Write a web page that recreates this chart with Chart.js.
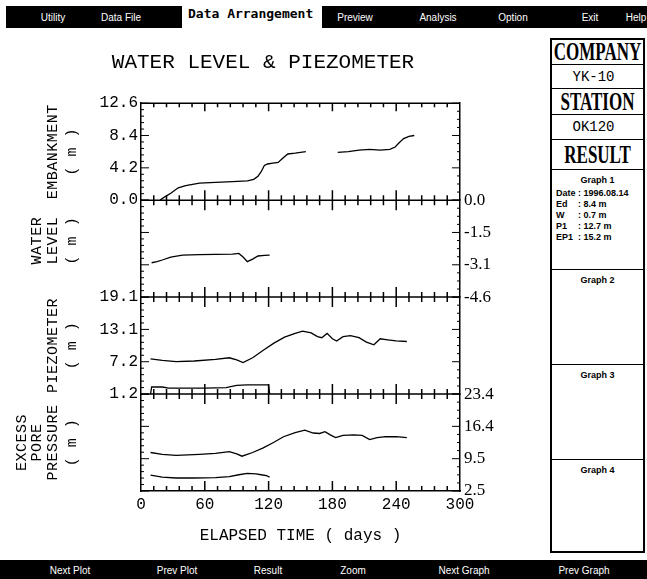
<!DOCTYPE html>
<html>
<head>
<meta charset="utf-8">
<title>Water level & piezometer</title>
<script src="https://cdn.jsdelivr.net/npm/chart.js@4.4.1/dist/chart.umd.min.js"></script>
<style>
  body { margin: 0; width: 647px; height: 579px; position: relative; overflow: hidden; background: #fff; font-family: 'Liberation Sans', sans-serif; }
  .bar { position: absolute; background: #000; color: #fff; font-size: 10px; }
  .bar span { position: absolute; top: 50%; transform: translate(-50%, -50%); white-space: nowrap; }
  #menuL { left: 6px; top: 6px; width: 176px; height: 22px; }
  #menuR { left: 322px; top: 6px; width: 325px; height: 22px; }
  #active { position: absolute; left: 188px; top: 6px; height: 22px; line-height: 22px; font: bold 13px 'DejaVu Sans Mono', monospace; }
  #footer { left: 0; top: 560px; width: 647px; height: 19px; }
  #chart { position: absolute; left: 0; top: 30px; }
  #side { position: absolute; left: 550px; top: 38px; width: 95px; height: 515px; border: 2px solid #000; box-sizing: border-box; }
  #side > div { border-bottom: 1.5px solid #000; box-sizing: border-box; text-align: center; overflow: hidden; }
  #side > div:last-child { border-bottom: none; }
  .head { font: bold 17px 'Liberation Serif', serif; display: flex; align-items: center; justify-content: center; }
  .head span { display: inline-block; transform: scaleY(1.5); }
  .val { font: 14px 'Liberation Mono', monospace; display: flex; align-items: center; justify-content: center; padding-right: 8px; }
  .graph { font: bold 9px 'Liberation Sans', sans-serif; padding-top: 5px; }
  .graph .rows { text-align: left; padding-left: 4px; margin-top: 3px; line-height: 11px; }
  .graph .rows b { display: inline-block; width: 22px; }
</style>
</head>
<body>
<div class="bar" id="menuL"><span style="left:47px">Utility</span><span style="left:115px">Data File</span></div>
<div id="active">Data Arrangement</div>
<div class="bar" id="menuR"><span style="left:33px">Preview</span><span style="left:116px">Analysis</span><span style="left:191px">Option</span><span style="left:268px">Exit</span><span style="left:314px">Help</span></div>

<canvas id="chart" width="526" height="528"></canvas>

<div id="side">
  <div class="head" style="height:25px"><span>COMPANY</span></div>
  <div class="val" style="height:24px">YK-10</div>
  <div class="head" style="height:26px"><span>STATION</span></div>
  <div class="val" style="height:25px">OK120</div>
  <div class="head" style="height:30px"><span>RESULT</span></div>
  <div class="graph" style="height:100px">Graph 1
    <div class="rows">
      <div><b>Date</b>: 1996.08.14</div>
      <div><b>Ed</b>: 8.4 m</div>
      <div><b>W</b>: 0.7 m</div>
      <div><b>P1</b>: 12.7 m</div>
      <div><b>EP1</b>: 15.2 m</div>
    </div>
  </div>
  <div class="graph" style="height:95px">Graph 2</div>
  <div class="graph" style="height:95px">Graph 3</div>
  <div class="graph" style="height:92px">Graph 4</div>
</div>

<div class="bar" id="footer"><span style="left:70px">Next Plot</span><span style="left:177px">Prev Plot</span><span style="left:268px">Result</span><span style="left:353px">Zoom</span><span style="left:464px">Next Graph</span><span style="left:584px">Prev Graph</span></div>

<script>
// --- data ---
const chartTitle = 'WATER LEVEL & PIEZOMETER';
const xTitle = 'ELAPSED TIME ( days )';
const dayTicks = [0, 60, 120, 180, 240, 300];
const minorDayStep = 12;

// panel ranges (m)
const embRange = [0, 12.6];
const waterRange = [-4.6, 0];
const piezoRange = [1.2, 19.1];
const excessRange = [2.5, 23.4];

const panelTitles = [
  ['EMBANKMENT', '( m )'],
  ['WATER', 'LEVEL', '( m )'],
  ['PIEZOMETER', '( m )'],
  ['EXCESS', 'PORE', 'PRESSURE', '( m )']
];

const embDays  = [18, 22, 28, 35, 42, 55, 70, 86, 100, 106, 110, 113, 116, 119, 124, 129, 133, 138, 145, 155, 170, 185, 195, 205, 215, 225, 234, 239, 243, 247, 252, 257];
const embLevel = [0.0, 0.4, 0.9, 1.6, 1.9, 2.2, 2.3, 2.4, 2.5, 2.7, 3.1, 3.7, 4.5, 4.7, 4.8, 4.9, 5.4, 6.0, 6.1, 6.3, null, 6.2, 6.3, 6.5, 6.6, 6.5, 6.6, 6.9, 7.5, 8.0, 8.3, 8.4];

const waterDays  = [10, 15, 20, 28, 39, 55, 70, 86, 92, 96, 100, 105, 110, 116, 121];
const waterLevel = [-2.97, -2.92, -2.84, -2.7, -2.61, -2.58, -2.57, -2.56, -2.53, -2.7, -2.92, -2.8, -2.65, -2.62, -2.61];

const piezoDays  = [9, 20, 33, 50, 70, 83, 90, 96, 105, 115, 125, 135, 145, 152, 160, 166, 170, 175, 180, 184, 190, 197, 205, 212, 219, 225, 232, 240, 250];
const piezoUpper = [7.7, 7.4, 7.2, 7.3, 7.6, 7.9, 7.5, 7.0, 7.9, 9.3, 10.6, 11.7, 12.4, 12.8, 12.5, 11.8, 11.6, 12.4, 11.4, 11.0, 11.8, 12.0, 11.6, 10.8, 10.3, 11.4, 11.2, 11.0, 10.9];

const piezoLowerDays = [9, 10, 20, 26, 40, 60, 80, 90, 100, 110, 120, 121];
const piezoLower     = [1.2, 2.5, 2.5, 2.3, 2.3, 2.3, 2.4, 2.8, 2.9, 2.9, 2.9, 1.2];

const excessDays  = [9, 20, 33, 55, 70, 83, 90, 95, 105, 115, 125, 134, 145, 154, 162, 168, 173, 178, 183, 190, 200, 208, 215, 222, 230, 240, 250];
const excessUpper = [10.8, 10.4, 10.2, 10.4, 10.6, 11.0, 10.5, 10.0, 10.8, 11.8, 13.0, 14.2, 15.1, 15.6, 15.0, 14.9, 15.3, 14.6, 14.0, 14.5, 14.6, 14.5, 13.6, 14.0, 14.2, 14.2, 14.0];

const excessLowerDays = [9, 20, 33, 50, 70, 83, 92, 100, 108, 113, 118, 121];
const excessLower     = [5.9, 5.5, 5.3, 5.3, 5.4, 5.6, 6.0, 6.3, 6.2, 6.0, 5.8, 5.5];

// --- helpers ---
const series = (days, vals) => days.map((d, i) => ({ x: d, y: vals[i] }));

function line(label, days, vals, yAxisID) {
  return {
    label, yAxisID, xAxisID: 'x',
    data: series(days, vals),
    borderColor: '#000', borderWidth: 1.3,
    pointRadius: 0, tension: 0, fill: false, spanGaps: false
  };
}

function yAxis(range, position, weight, showLabels) {
  const [min, max] = range;
  const left = position === 'left';
  return {
    type: 'linear', position, stack: position, weight, min, max,
    grid: { drawOnChartArea: false, drawTicks: false },
    border: { color: '#000', width: 1.5 },
    afterBuildTicks: s => { s.ticks = [0, 1, 2, 3].map(i => ({ value: min + (max - min) * i / 3 })); },
    afterFit: s => { s.width = left ? 141 : 66; },
    ticks: {
      display: showLabels, autoSkip: false, color: '#000',
      padding: left ? 3 : 4,
      font: left ? { family: 'Liberation Mono', size: 16 } : { family: 'Liberation Serif', size: 17 },
      callback: v => v.toFixed(1)
    }
  };
}

// frame: top line, panel dividers with cross ticks, inward ticks on all sides
const frameTicks = {
  id: 'frameTicks',
  afterDraw(chart) {
    const { ctx, chartArea: a, scales } = chart;
    const xs = scales.x;
    const dividers = [scales.yEmb.bottom, scales.yPiezo.top, scales.yPiezo.bottom];
    ctx.save();
    ctx.strokeStyle = '#000';
    ctx.lineWidth = 1.5;
    ctx.beginPath();
    ctx.moveTo(a.left, a.top); ctx.lineTo(a.right, a.top);
    dividers.forEach(y => { ctx.moveTo(a.left, y); ctx.lineTo(a.right, y); });
    for (let d = minorDayStep; d < xs.max; d += minorDayStep) {
      const px = xs.getPixelForValue(d);
      const big = d % 60 === 0;
      ctx.moveTo(px, a.top); ctx.lineTo(px, a.top + (big ? 8 : 4));
      ctx.moveTo(px, a.bottom); ctx.lineTo(px, a.bottom - (big ? 10 : 5));
      dividers.forEach(y => {
        const h = big ? 10 : 5;
        ctx.moveTo(px, y - h); ctx.lineTo(px, y + h);
      });
    }
    ctx.stroke();
    ctx.lineWidth = 1;
    ctx.beginPath();
    Object.values(scales).forEach(s => {
      if (s.axis !== 'y') return;
      const left = s.position === 'left';
      const n = left ? 15 : 12, per = left ? 5 : 4;
      const x0 = left ? a.left : a.right, dir = left ? 1 : -1;
      for (let i = 0; i <= n; i++) {
        const y = s.getPixelForValue(s.min + (s.max - s.min) * i / n);
        const len = i % per === 0 ? 8 : 3;
        ctx.moveTo(x0, y); ctx.lineTo(x0 + dir * len, y);
      }
    });
    ctx.stroke();
    ctx.restore();
  }
};

// rotated panel titles to the left of the axis labels
const sideTitles = {
  id: 'sideTitles',
  afterDraw(chart) {
    const ctx = chart.ctx;
    const ids = ['yEmb', 'yL2', 'yPiezo', 'yL4'];
    const shift = [0, -8, 0, 0];
    ctx.save();
    ctx.fillStyle = '#000';
    ctx.font = '15px "Liberation Mono"';
    ctx.letterSpacing = '0.5px';
    ctx.textAlign = 'center';
    ctx.textBaseline = 'middle';
    panelTitles.forEach((lines, i) => {
      const s = chart.scales[ids[i]];
      const cy = (s.top + s.bottom) / 2 + shift[i];
      lines.forEach((t, j) => {
        const k = lines.length - 1 - j;
        const cx = k === 0 ? 72 : 72 - 19 - (k - 1) * 15.5;
        ctx.save();
        ctx.translate(cx, cy);
        ctx.rotate(-Math.PI / 2);
        ctx.fillText(t, 0, 0);
        ctx.restore();
      });
    });
    ctx.restore();
  }
};

new Chart(document.getElementById('chart'), {
  type: 'line',
  data: {
    datasets: [
      line('Embankment', embDays, embLevel, 'yEmb'),
      line('Water level', waterDays, waterLevel, 'yWater'),
      line('Piezometer 1', piezoDays, piezoUpper, 'yPiezo'),
      line('Piezometer 2', piezoLowerDays, piezoLower, 'yPiezo'),
      line('Excess pore pressure 1', excessDays, excessUpper, 'yExcess'),
      line('Excess pore pressure 2', excessLowerDays, excessLower, 'yExcess')
    ]
  },
  options: {
    responsive: false,
    animation: false,
    events: [],
    layout: { padding: 0 },
    plugins: {
      legend: { display: false },
      tooltip: { enabled: false },
      title: {
        display: true, text: chartTitle, color: '#000',
        font: { family: 'Liberation Mono', size: 21, weight: 'normal' },
        padding: { top: 20, bottom: 28 }
      }
    },
    scales: {
      x: {
        type: 'linear', position: 'bottom', min: 0, max: 300,
        afterBuildTicks: s => { s.ticks = dayTicks.map(v => ({ value: v })); },
        afterFit: s => { s.height = 67; },
        grid: { drawOnChartArea: false, drawTicks: false },
        border: { color: '#000', width: 1.5 },
        ticks: { color: '#000', font: { family: 'Liberation Mono', size: 16 }, padding: 4, maxRotation: 0, autoSkip: false },
        title: { display: true, text: xTitle, color: '#000', font: { family: 'Liberation Mono', size: 16 }, padding: { top: 4, bottom: 13 } }
      },
      yEmb:    yAxis(embRange, 'left', 4, true),
      yL2:     yAxis(waterRange, 'left', 3, false),
      yPiezo:  yAxis(piezoRange, 'left', 2, true),
      yL4:     yAxis(excessRange, 'left', 1, false),
      yR1:     yAxis(embRange, 'right', 1, false),
      yWater:  yAxis(waterRange, 'right', 2, true),
      yR3:     yAxis(piezoRange, 'right', 3, false),
      yExcess: yAxis(excessRange, 'right', 4, true)
    }
  },
  plugins: [frameTicks, sideTitles]
});
</script>
</body>
</html>
